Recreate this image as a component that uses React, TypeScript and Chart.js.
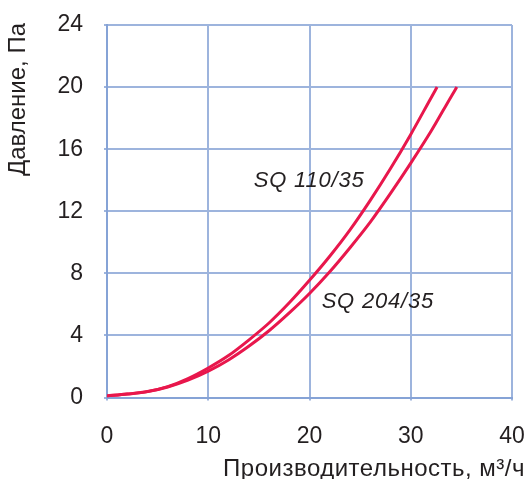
import React, { useEffect, useRef } from "react";
import { Chart, registerables } from "chart.js";

Chart.register(...registerables);

const xTicks = [0, 10, 20, 30, 40];
const yTicks = [0, 4, 8, 12, 16, 20, 24];

const sq110X = [0, 2, 4, 6, 8, 10, 12, 14, 16, 18, 20, 22, 24, 26, 28, 30, 32, 32.6];
const sq110Y = [0.1, 0.22, 0.38, 0.7, 1.22, 1.9, 2.7, 3.7, 4.8, 6.1, 7.55, 9.1, 10.8, 12.7, 14.75, 16.95, 19.3, 20];

const sq204X = [0, 2, 4, 6, 8, 10, 12, 14, 16, 18, 20, 22, 24, 26, 28, 30, 32, 34, 34.55];
const sq204Y = [0.1, 0.22, 0.38, 0.68, 1.12, 1.7, 2.42, 3.3, 4.3, 5.45, 6.7, 8.1, 9.65, 11.3, 13.15, 15.1, 17.15, 19.4, 20];

const seriesNames = ["SQ 110/35", "SQ 204/35"];
const labelPos = [
  { x: 14.5, y: 13.95 },
  { x: 21.2, y: 6.15 },
];
const xTitle = "Производительность, м³/ч";
const yTitle = "Давление, Па";

const TEXT = "#231f20";
const GRID = "#9db4dd";
const LINE = "#e8174c";
const FONT = "'Liberation Sans', Arial, sans-serif";

export default function App() {
  const ref = useRef<HTMLCanvasElement | null>(null);

  useEffect(() => {
    document.body.style.margin = "0";
    const canvas = ref.current;
    if (!canvas) return;

    const textPlugin = {
      id: "texts",
      afterDraw(chart: any) {
        const ctx = chart.ctx;
        const xs = chart.scales.x;
        const ys = chart.scales.y;
        ctx.save();
        ctx.fillStyle = TEXT;
        // annotations
        ctx.font = `italic 22px ${FONT}`;
        (ctx as any).letterSpacing = "0.8px";
        ctx.textAlign = "left";
        ctx.textBaseline = "middle";
        seriesNames.forEach((name, i) => {
          ctx.fillText(name, xs.getPixelForValue(labelPos[i].x), ys.getPixelForValue(labelPos[i].y));
        });
        // x title
        (ctx as any).letterSpacing = "0.5px";
        ctx.font = `24px ${FONT}`;
        ctx.textAlign = "right";
        ctx.textBaseline = "middle";
        ctx.fillText(xTitle, 525, 469);
        (ctx as any).letterSpacing = "0px";
        // y title
        ctx.translate(18, 23);
        ctx.rotate(-Math.PI / 2);
        ctx.textAlign = "right";
        ctx.textBaseline = "middle";
        ctx.fillText(yTitle, 0, 0);
        ctx.restore();
      },
    };

    const mk = (xsArr: number[], ysArr: number[], label: string) => ({
      label,
      data: xsArr.map((x, i) => ({ x, y: ysArr[i] })),
      borderColor: LINE,
      borderWidth: 3,
      pointRadius: 0,
      fill: false,
      cubicInterpolationMode: "monotone" as const,
    });

    const chart = new Chart(canvas, {
      type: "line",
      data: {
        datasets: [mk(sq110X, sq110Y, seriesNames[0]), mk(sq204X, sq204Y, seriesNames[1])],
      },
      options: {
        animation: false,
        responsive: false,
        layout: { padding: { top: 25, right: 17, left: 0, bottom: 0 } },
        plugins: { legend: { display: false }, tooltip: { enabled: false } },
        scales: {
          x: {
            type: "linear",
            min: 0,
            max: 40,
            afterBuildTicks: (s: any) => {
              s.ticks = xTicks.map((v) => ({ value: v }));
            },
            afterFit: (s: any) => {
              s.height = 81.5;
              s.paddingLeft = 0;
              s.paddingRight = 0;
            },
            grid: { color: GRID, lineWidth: 2, tickLength: 3 },
            border: { color: "#86a3d6", width: 2 },
            ticks: { color: TEXT, font: { family: FONT, size: 23 }, padding: 22, maxRotation: 0 },
          },
          y: {
            type: "linear",
            min: 0,
            max: 24,
            afterBuildTicks: (s: any) => {
              s.ticks = yTicks.map((v) => ({ value: v }));
            },
            afterFit: (s: any) => {
              s.width = 107;
              s.paddingTop = 0;
              s.paddingBottom = 0;
            },
            grid: { color: GRID, lineWidth: 2, tickLength: 3 },
            border: { color: "#86a3d6", width: 2 },
            ticks: { color: TEXT, font: { family: FONT, size: 23 }, padding: 21 },
          },
        },
      },
      plugins: [textPlugin],
    });
    return () => chart.destroy();
  }, []);

  return (
    <div style={{ position: "fixed", left: 0, top: 0, width: 529, height: 479 }}>
      <canvas ref={ref} width={529} height={479} />
    </div>
  );
}
